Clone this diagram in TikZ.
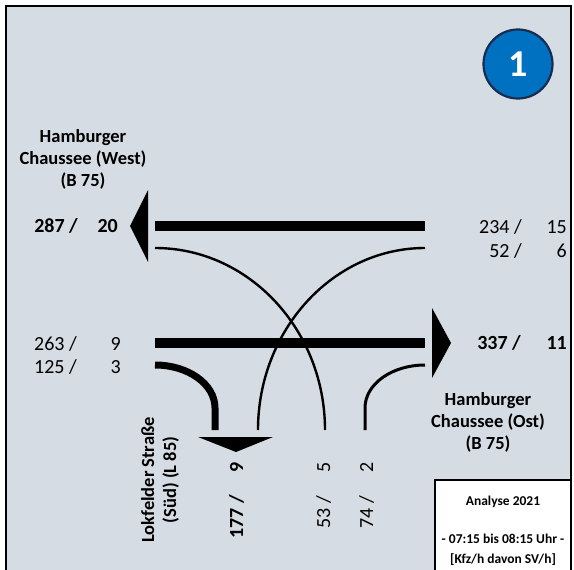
\documentclass[tikz,border=0pt]{standalone}
\usepackage{fontspec}
\setmainfont{Carlito}
\usetikzlibrary{positioning}
\definecolor{paneBg}{RGB}{214,220,227}
\definecolor{badgeBlue}{RGB}{0,112,192}
\definecolor{badgeRim}{RGB}{22,44,80}

\begin{document}
\begin{tikzpicture}[
  x=1pt, y=-1pt,
  bar/.style={line width=10pt},
  turn/.style={line width=2.4pt},
  midturn/.style={line width=3pt},
  heavyturn/.style={line width=7pt},
  head/.style={fill=black},
  num/.style={anchor=base east, inner sep=0pt, font=\fontsize{20}{24}\selectfont},
  bnum/.style={anchor=base east, inner sep=0pt, font=\fontsize{20}{24}\selectfont\bfseries},
  road/.style={align=center, inner sep=0pt, font=\fontsize{18.5}{22}\selectfont\bfseries},
  note/.style={align=center, inner sep=0pt, font=\fontsize{13.5}{20}\selectfont\bfseries}
]
\useasboundingbox (0,0) rectangle (574,570);
\fill[white] (0,0) rectangle (574,570);
\draw[fill=paneBg, line width=2pt] (6,6) rectangle (571,600);

% node number
\node[circle, fill=badgeBlue, draw=badgeRim, line width=2.2pt, minimum size=69pt,
      text=white, font=\fontsize{38}{40}\selectfont\bfseries] (badge) at (518,64) {1};

% lane ends
\coordinate (wbE) at (425,226);
\coordinate (wbW) at (155,226);
\coordinate (ebW) at (155,343);
\coordinate (ebE) at (425,343);
\coordinate (lsE) at (425,248);
\coordinate (lsW) at (155,248);
\coordinate (rsW) at (155,365);
\coordinate (rsE) at (425,365);
\coordinate (sA) at (215,430);
\coordinate (sB) at (258,430);
\coordinate (sC) at (325,430);
\coordinate (sD) at (365,430);

% through traffic
\draw[bar] (wbE) -- (wbW);
\draw[bar] (ebW) -- (ebE);
\fill[head] (148,190) -- (130,226) -- (148,262) -- cycle;
\fill[head] (432,308) -- (451,343) -- (432,378) -- cycle;
\fill[head] (198,437) -- (273,437) -- (236,452) -- cycle;

% turning traffic
\draw[turn] (lsW) .. controls (249,248) and (325,330) .. (sC);
\draw[turn] (lsE) .. controls (333,248) and (258,330) .. (sB);
\draw[heavyturn] (rsW) .. controls (188,365) and (215,384) .. (215,408) -- (sA);
\draw[midturn] (rsE) .. controls (392,365) and (365,384) .. (365,408) -- (sD);

% volumes west
\node[bnum] (w1a) at (78,232) {287 /};
\node[bnum] (w1b) at (118,232) {20};
\node[num] (w2a) at (77,350) {263 /};
\node[num] (w2b) at (121,350) {9};
\node[num] (w3a) at (77,373) {125 /};
\node[num] (w3b) at (121,373) {3};

% volumes east
\node[num] (e1a) at (522,233) {234 /};
\node[num] (e1b) at (567,233) {15};
\node[num] (e2a) at (522,257) {52 /};
\node[num] (e2b) at (567,257) {6};
\node[bnum] (e3a) at (521,349) {337 /};
\node[bnum] (e3b) at (567,349) {11};

% volumes south
\node[bnum, rotate=90] (s1b) at (243,462) {9};
\node[bnum, rotate=90] (s1a) at (243,495) {177 /};
\node[num, rotate=90] (s2b) at (330,462) {5};
\node[num, rotate=90] (s2a) at (330,496) {53 /};
\node[num, rotate=90] (s3b) at (373,462) {2};
\node[num, rotate=90] (s3a) at (373,496) {74 /};

% arm names
\node[road] (west) at (83,159) {Hamburger\\Chaussee (West)\\(B 75)};
\node[road] (east) at (488,422) {Hamburger\\Chaussee (Ost)\\(B 75)};
\node[road, rotate=90] (south) at (160,480) {Lokfelder Straße\\(Süd) (L 85)};

% legend
\draw[fill=white, line width=1.2pt] (435,480) rectangle (571,600);
\node[note] (year) at (503,502) {Analyse 2021};
\node[note] (span) at (503,550) {- 07:15 bis 08:15 Uhr -\\{[Kfz/h davon SV/h]}};
\end{tikzpicture}
\end{document}
